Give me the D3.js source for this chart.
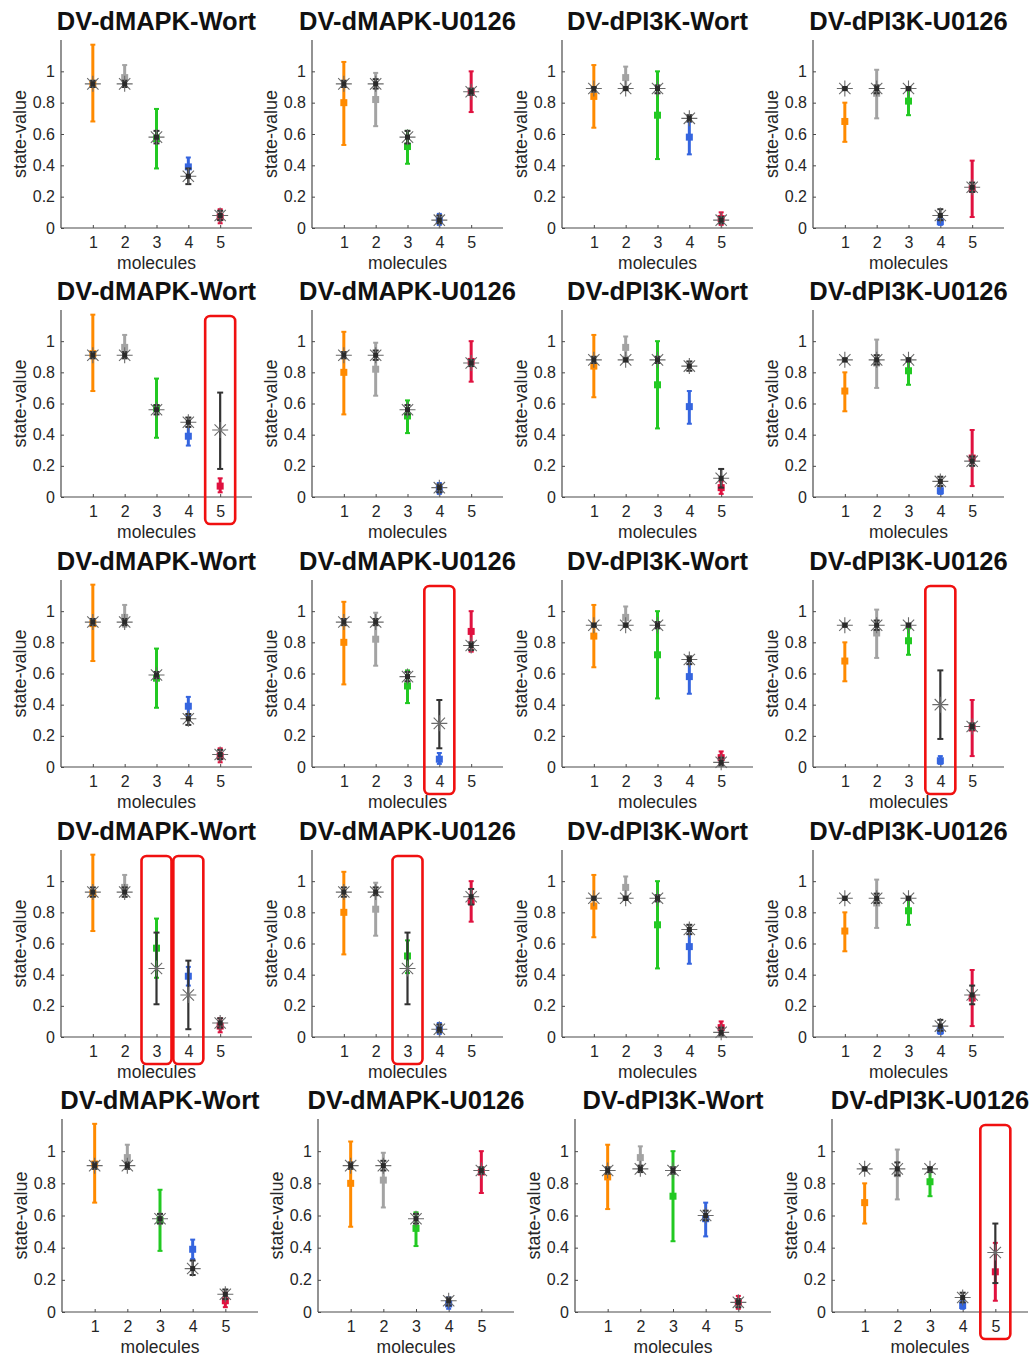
<!DOCTYPE html>
<html>
<head>
<meta charset="utf-8">
<script src="https://cdn.jsdelivr.net/npm/d3@7.9.0/dist/d3.min.js"></script>
<style>
  body { margin: 0; background: #fff; }
  svg { display: block; font-family: "Liberation Sans", Arial, sans-serif; }
</style>
</head>
<body>
<svg id="fig" width="1034" height="1356"></svg>
<script>
// panel titles (one per column) and molecule ids
const titles = ['DV-dMAPK-Wort', 'DV-dMAPK-U0126', 'DV-dPI3K-Wort', 'DV-dPI3K-U0126'];
const molecules = [1, 2, 3, 4, 5];
const molColors = ['#ff8a00', '#a3a3a3', '#22c922', '#3565df', '#e0113f'];
const yTicks = [0, 0.2, 0.4, 0.6, 0.8, 1];

// experimental data: one row per condition (column), one value per molecule
const expMean = [[0.92, 0.96, 0.57, 0.39, 0.07], [0.80, 0.82, 0.52, 0.05, 0.87], [0.84, 0.96, 0.72, 0.58, 0.06], [0.68, 0.86, 0.81, 0.04, 0.25]];
const expLo   = [[0.68, 0.90, 0.38, 0.33, 0.03], [0.53, 0.65, 0.41, 0.02, 0.74], [0.64, 0.90, 0.44, 0.47, 0.02], [0.55, 0.70, 0.72, 0.02, 0.07]];
const expHi   = [[1.17, 1.04, 0.76, 0.45, 0.12], [1.06, 0.99, 0.62, 0.09, 1.00], [1.04, 1.03, 1.00, 0.68, 0.10], [0.80, 1.01, 0.89, 0.07, 0.43]];

// model fits: [row][column][molecule]
const modelMean = [
  [[0.92, 0.92, 0.58, 0.33, 0.08], [0.92, 0.92, 0.58, 0.05, 0.87], [0.89, 0.89, 0.89, 0.70, 0.05], [0.89, 0.89, 0.89, 0.08, 0.26]],
  [[0.91, 0.91, 0.56, 0.48, 0.43], [0.91, 0.91, 0.56, 0.06, 0.86], [0.88, 0.88, 0.88, 0.84, 0.12], [0.88, 0.88, 0.88, 0.10, 0.23]],
  [[0.93, 0.93, 0.59, 0.31, 0.08], [0.93, 0.93, 0.58, 0.28, 0.78], [0.91, 0.91, 0.91, 0.69, 0.03], [0.91, 0.91, 0.91, 0.40, 0.26]],
  [[0.93, 0.93, 0.44, 0.27, 0.09], [0.93, 0.93, 0.44, 0.05, 0.90], [0.89, 0.89, 0.89, 0.69, 0.03], [0.89, 0.89, 0.89, 0.07, 0.27]],
  [[0.91, 0.91, 0.58, 0.27, 0.11], [0.91, 0.91, 0.58, 0.07, 0.88], [0.88, 0.89, 0.88, 0.60, 0.06], [0.89, 0.89, 0.89, 0.09, 0.37]]
];
const modelLo = [
  [[0.90, 0.90, 0.54, 0.28, 0.05], [0.90, 0.89, 0.54, 0.03, 0.85], [0.87, 0.88, 0.86, 0.68, 0.03], [0.88, 0.86, 0.88, 0.05, 0.23]],
  [[0.89, 0.89, 0.53, 0.45, 0.18], [0.89, 0.88, 0.53, 0.03, 0.84], [0.86, 0.87, 0.86, 0.81, 0.06], [0.87, 0.85, 0.87, 0.07, 0.20]],
  [[0.91, 0.91, 0.57, 0.27, 0.05], [0.91, 0.91, 0.55, 0.12, 0.75], [0.90, 0.90, 0.89, 0.66, 0.01], [0.90, 0.88, 0.90, 0.18, 0.24]],
  [[0.90, 0.90, 0.21, 0.05, 0.06], [0.90, 0.91, 0.21, 0.03, 0.85], [0.88, 0.88, 0.87, 0.66, 0.01], [0.88, 0.86, 0.88, 0.04, 0.21]],
  [[0.89, 0.89, 0.55, 0.23, 0.08], [0.89, 0.88, 0.55, 0.04, 0.86], [0.86, 0.87, 0.86, 0.57, 0.03], [0.88, 0.85, 0.87, 0.06, 0.18]]
];
const modelHi = [
  [[0.94, 0.94, 0.62, 0.38, 0.11], [0.94, 0.95, 0.62, 0.08, 0.89], [0.90, 0.90, 0.91, 0.72, 0.07], [0.90, 0.91, 0.90, 0.12, 0.29]],
  [[0.93, 0.93, 0.59, 0.51, 0.67], [0.93, 0.94, 0.59, 0.08, 0.88], [0.90, 0.89, 0.90, 0.87, 0.18], [0.89, 0.91, 0.89, 0.13, 0.26]],
  [[0.95, 0.95, 0.61, 0.34, 0.11], [0.95, 0.95, 0.61, 0.43, 0.80], [0.92, 0.92, 0.93, 0.71, 0.06], [0.92, 0.94, 0.92, 0.62, 0.28]],
  [[0.96, 0.96, 0.67, 0.49, 0.12], [0.96, 0.96, 0.67, 0.08, 0.95], [0.90, 0.90, 0.91, 0.72, 0.06], [0.90, 0.92, 0.90, 0.11, 0.33]],
  [[0.93, 0.93, 0.61, 0.32, 0.14], [0.93, 0.94, 0.61, 0.09, 0.90], [0.90, 0.91, 0.90, 0.63, 0.08], [0.90, 0.93, 0.90, 0.12, 0.55]]
];

// red boxes: [row, column, molecule index]
const highlights = [[1, 0, 4], [2, 1, 3], [2, 3, 3], [3, 0, 2], [3, 0, 3], [3, 1, 2], [4, 3, 4]];

// layout of the grid (rows 1-4 share one, row 5 was pasted a bit wider)
const rowBottom = [228, 497, 767, 1037, 1312];
const rowHeight = [188, 187, 187, 187, 193];
const colLeft = [[61, 312, 562, 813], [61, 312, 562, 813], [61, 312, 562, 813], [61, 312, 562, 813], [62, 318, 575, 832]];
const colWidth = [191, 191, 191, 191, 196];

const svg = d3.select('#fig');
const axisCol = '#4a4a4a';
const textCol = '#262626';

function star(g, cx, cy, r) {
  const a = r * Math.SQRT1_2;
  const p = `M${cx - r},${cy}L${cx + r},${cy}M${cx},${cy - r}L${cx},${cy + r}` +
            `M${cx - a},${cy - a}L${cx + a},${cy + a}M${cx - a},${cy + a}L${cx + a},${cy - a}`;
  g.append('path').attr('d', p).attr('stroke', '#6a6a6a').attr('stroke-width', 1.1).attr('fill', 'none');
}

function errbar(g, x, y0, y1, color, lw, cap) {
  g.append('line').attr('x1', x).attr('x2', x).attr('y1', y0).attr('y2', y1)
    .attr('stroke', color).attr('stroke-width', lw);
  [y0, y1].forEach(yy => g.append('line')
    .attr('x1', x - cap / 2).attr('x2', x + cap / 2).attr('y1', yy).attr('y2', yy)
    .attr('stroke', color).attr('stroke-width', 2));
}

for (let r = 0; r < 5; r++) {
  for (let c = 0; c < 4; c++) {
    const left = colLeft[r][c], bottom = rowBottom[r];
    const x = d3.scaleLinear().domain([0, 6]).range([left, left + colWidth[r]]);
    const y = d3.scaleLinear().domain([0, 1.2]).range([bottom, bottom - rowHeight[r]]);
    const g = svg.append('g');

    // axes (box off, ticks pointing inward)
    const xAxis = g.append('g').attr('transform', `translate(0,${bottom})`)
      .call(d3.axisBottom(x).tickValues(molecules).tickSize(-3).tickPadding(9).tickFormat(d3.format('d')));
    const yAxis = g.append('g').attr('transform', `translate(${left},0)`)
      .call(d3.axisLeft(y).tickValues(yTicks).tickSize(-3).tickPadding(6).tickFormat(d3.format('~g')));
    [xAxis, yAxis].forEach(a => {
      a.select('.domain').attr('stroke', axisCol).attr('stroke-width', 1.2)
        .attr('d', a === xAxis ? `M${left},0H${left + colWidth[r]}` : `M0,${bottom}V${bottom - rowHeight[r]}`);
      a.selectAll('.tick line').attr('stroke', axisCol);
      a.selectAll('.tick text').attr('fill', textCol).style('font-size', '16px');
    });

    g.append('text').attr('x', (left + left + colWidth[r]) / 2).attr('y', bottom - rowHeight[r] - 10)
      .attr('text-anchor', 'middle').style('font-size', '25.5px').style('font-weight', 'bold')
      .attr('fill', '#111').text(titles[c]);
    g.append('text').attr('x', (left + left + colWidth[r]) / 2).attr('y', bottom + 41)
      .attr('text-anchor', 'middle').style('font-size', '17.5px').attr('fill', textCol).text('molecules');
    g.append('text').attr('transform', `translate(${left - 35},${bottom - rowHeight[r] / 2}) rotate(-90)`)
      .attr('text-anchor', 'middle').style('font-size', '18px').attr('fill', textCol).text('state-value');

    // experimental data
    molecules.forEach((m, i) => {
      errbar(g, x(m), y(expLo[c][i]), y(expHi[c][i]), molColors[i], 3, 5);
      g.append('rect').attr('x', x(m) - 3.5).attr('y', y(expMean[c][i]) - 3.5)
        .attr('width', 7).attr('height', 7).attr('fill', molColors[i]);
    });

    // model fits
    molecules.forEach((m, i) => {
      const lo = modelLo[r][c][i], hi = modelHi[r][c][i];
      const wide = hi - lo > 0.2;
      errbar(g, x(m), y(lo), y(hi), '#333', wide ? 2.2 : 2.4, 6);
      star(g, x(m), y(modelMean[r][c][i]), 8);
      if (!wide) {
        g.append('rect').attr('x', x(m) - 2.5).attr('y', y(modelMean[r][c][i]) - 2.5)
          .attr('width', 5).attr('height', 5).attr('fill', '#2a2a2a');
      }
    });
  }
}

// red highlight boxes
highlights.forEach(([r, c, i]) => {
  const left = colLeft[r][c];
  const x = d3.scaleLinear().domain([0, 6]).range([left, left + colWidth[r]]);
  const top = rowBottom[r] - rowHeight[r] + 6;
  svg.append('rect').attr('x', x(molecules[i]) - 15).attr('y', top)
    .attr('width', 30).attr('height', rowBottom[r] + 27 - top)
    .attr('rx', 5).attr('fill', 'none').attr('stroke', '#f01010').attr('stroke-width', 2.6);
});
</script>
</body>
</html>
